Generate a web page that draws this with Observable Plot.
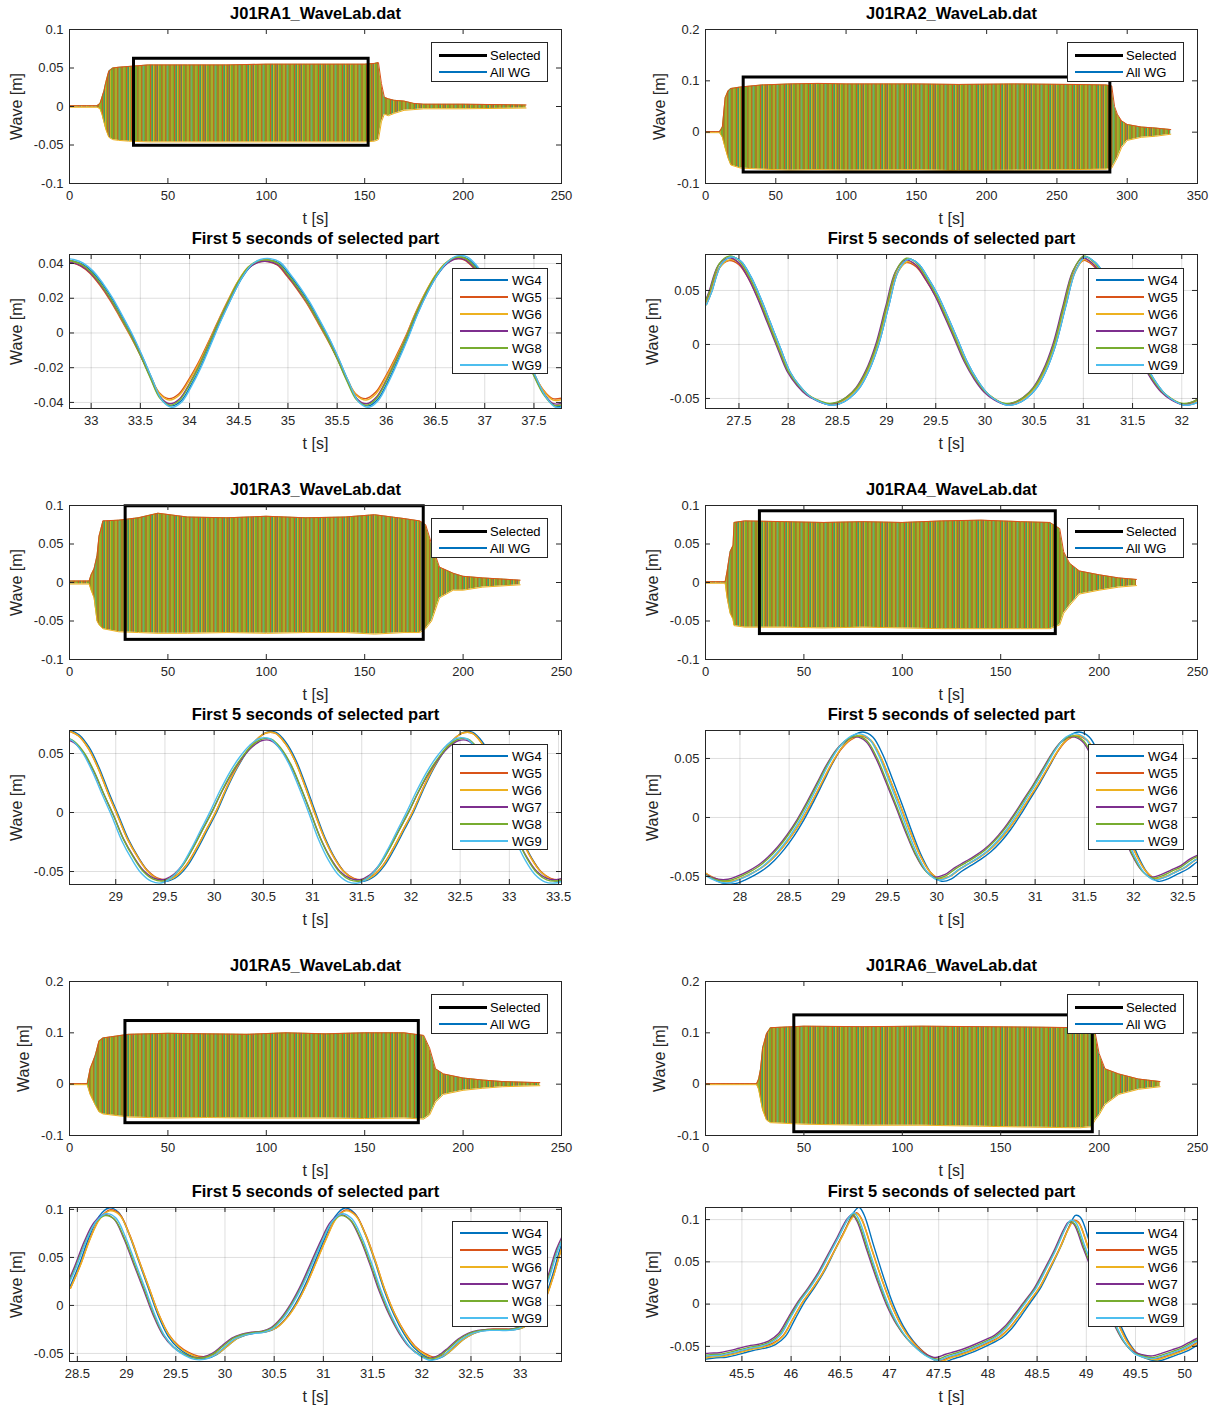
<!DOCTYPE html>
<html><head><meta charset="utf-8">
<script src="https://cdn.jsdelivr.net/npm/d3@7"></script>
<script src="https://cdn.jsdelivr.net/npm/@observablehq/plot@0.6"></script>
<style>
html,body{margin:0;padding:0;background:#fff;}
#fig{position:relative;width:1218px;height:1407px;overflow:hidden;font-family:"Liberation Sans",Arial,Helvetica,sans-serif;}
.panel{position:absolute;}
.legend{position:absolute;background:#fff;border:1px solid #262626;box-sizing:border-box;color:#000;font-size:13px;}
.legend .ln{position:absolute;}
.legend .tx{position:absolute;line-height:17px;height:17px;white-space:nowrap;}
</style></head>
<body>
<svg width="0" height="0" style="position:absolute"><defs>
<pattern id="waveTex" patternUnits="userSpaceOnUse" width="24" height="10">
<rect x="0" y="0" width="24" height="10" fill="#77AC30"/>
<rect x="1.5" y="0" width="1" height="10" fill="#D95319"/>
<rect x="3.6" y="0" width="0.7" height="10" fill="#EDB120"/>
<rect x="6" y="0" width="0.9" height="10" fill="#D95319"/>
<rect x="7.9" y="0" width="0.5" height="10" fill="#0072BD"/>
<rect x="9.2" y="0" width="0.9" height="10" fill="#EDB120"/>
<rect x="11.2" y="0" width="1.1" height="10" fill="#D95319"/>
<rect x="13.1" y="0" width="0.5" height="10" fill="#7E2F8E"/>
<rect x="14.3" y="0" width="0.7" height="10" fill="#EDB120"/>
<rect x="17.4" y="0" width="0.9" height="10" fill="#D95319"/>
<rect x="19.6" y="0" width="0.8" height="10" fill="#EDB120"/>
<rect x="21.3" y="0" width="1" height="10" fill="#D95319"/>
<rect x="22.9" y="0" width="0.4" height="10" fill="#4DBEEE"/>
</pattern></defs></svg>
<div id="fig"></div>
<script>
// ---------- DATA ----------
const files = ["J01RA1_WaveLab.dat","J01RA2_WaveLab.dat","J01RA3_WaveLab.dat","J01RA4_WaveLab.dat","J01RA5_WaveLab.dat","J01RA6_WaveLab.dat"];
const wgNames = ["WG4","WG5","WG6","WG7","WG8","WG9"];
const wgColors = ["#0072BD","#D95319","#EDB120","#7E2F8E","#77AC30","#4DBEEE"];
const overviewLegend = ["Selected","All WG"];
const detailTitle = "First 5 seconds of selected part";

// envelopes of full records: [t, upper, lower]
const ra1Env = [[0,0.001,-0.001],[14,0.001,-0.001],[15.5,0.004,-0.003],[16.5,0.012,-0.01],[17.5,0.02,-0.02],[18.5,0.032,-0.03],[20,0.046,-0.04],[22,0.05,-0.043],[25,0.051,-0.044],[30,0.052,-0.045],[40,0.054,-0.046],[60,0.054,-0.046],[80,0.054,-0.046],[100,0.055,-0.046],[120,0.055,-0.046],[140,0.055,-0.046],[150,0.055,-0.046],[155,0.056,-0.045],[157,0.057,-0.043],[158.5,0.03,-0.02],[160,0.012,-0.01],[162,0.01,-0.012],[165,0.008,-0.009],[170,0.007,-0.005],[175,0.004,-0.004],[180,0.003,-0.003],[200,0.003,-0.003],[232,0.002,-0.002]];
const ra2Env = [[0,0.001,-0.001],[10,0.001,-0.001],[12,0.01,-0.01],[14,0.067,-0.031],[16,0.08,-0.05],[18,0.085,-0.064],[25,0.088,-0.07],[40,0.092,-0.072],[60,0.094,-0.074],[80,0.095,-0.073],[100,0.094,-0.074],[150,0.094,-0.073],[180,0.093,-0.075],[220,0.094,-0.074],[260,0.093,-0.073],[285,0.092,-0.072],[289,0.09,-0.07],[291,0.05,-0.06],[293,0.035,-0.05],[296,0.022,-0.03],[300,0.015,-0.016],[310,0.01,-0.01],[320,0.008,-0.008],[331,0.005,-0.004]];
const ra3Env = [[0,0.002,-0.002],[10,0.002,-0.002],[11,0.01,-0.01],[12.5,0.018,-0.02],[14,0.035,-0.05],[15,0.06,-0.055],[17,0.08,-0.06],[25,0.081,-0.064],[35,0.084,-0.065],[45,0.09,-0.066],[60,0.085,-0.066],[80,0.084,-0.065],[100,0.086,-0.066],[120,0.084,-0.065],[140,0.085,-0.065],[155,0.088,-0.067],[170,0.083,-0.065],[178,0.08,-0.065],[181,0.075,-0.06],[184,0.05,-0.05],[188,0.02,-0.02],[195,0.012,-0.01],[200,0.008,-0.01],[210,0.006,-0.006],[229,0.003,-0.003]];
const ra4Env = [[0,0.001,-0.001],[10,0.001,-0.001],[11,0.015,-0.02],[12.5,0.04,-0.04],[14,0.048,-0.048],[14.5,0.078,-0.056],[20,0.08,-0.058],[40,0.079,-0.058],[60,0.078,-0.059],[80,0.079,-0.058],[100,0.078,-0.059],[120,0.08,-0.06],[140,0.081,-0.06],[160,0.079,-0.06],[175,0.078,-0.06],[180,0.07,-0.055],[182,0.04,-0.04],[185,0.025,-0.03],[190,0.015,-0.015],[200,0.01,-0.01],[210,0.006,-0.006],[219,0.004,-0.004]];
const ra5Env = [[0,0.001,-0.001],[9,0.001,-0.001],[10.5,0.03,-0.02],[13,0.055,-0.04],[15,0.084,-0.054],[17,0.09,-0.058],[30,0.097,-0.064],[50,0.099,-0.066],[70,0.098,-0.065],[90,0.097,-0.066],[110,0.1,-0.066],[130,0.098,-0.066],[150,0.1,-0.067],[170,0.1,-0.066],[180,0.095,-0.068],[183,0.07,-0.06],[186,0.03,-0.035],[190,0.02,-0.02],[200,0.012,-0.012],[210,0.008,-0.008],[220,0.005,-0.005],[239,0.003,-0.003]];
const ra6Env = [[0,0.001,-0.001],[26,0.001,-0.001],[27,0.01,-0.01],[28,0.03,-0.03],[29,0.07,-0.05],[31,0.098,-0.07],[33,0.11,-0.075],[50,0.113,-0.078],[80,0.112,-0.08],[110,0.113,-0.08],[140,0.112,-0.082],[170,0.111,-0.084],[190,0.11,-0.085],[196,0.108,-0.083],[198,0.1,-0.07],[200,0.06,-0.06],[203,0.03,-0.04],[210,0.02,-0.02],[220,0.01,-0.01],[231,0.005,-0.005]];

// selected window: [tStart, tEnd, low, high]
const ra1Sel = [32.78,152,-0.051,0.062];
const ra2Sel = [27.16,288,-0.0786,0.1065];
const ra3Sel = [28.53,180,-0.0745,0.099];
const ra4Sel = [27.65,178,-0.067,0.0925];
const ra5Sel = [28.42,177.5,-0.076,0.123];
const ra6Sel = [45.13,196.8,-0.0936,0.134];

// first 5 seconds (reference gauge trace): [t, eta]
const ra1Detail = [[32.75,0.042],[32.8,0.0415],[32.9,0.0395],[33.0,0.035],[33.1,0.028],[33.2,0.0195],[33.3,0.0095],[33.4,-0.001],[33.5,-0.013],[33.6,-0.026],[33.7,-0.038],[33.8,-0.042],[33.9,-0.039],[34.0,-0.030],[34.1,-0.019],[34.2,-0.006],[34.3,0.007],[34.4,0.019],[34.5,0.030],[34.6,0.038],[34.7,0.0415],[34.8,0.042],[34.9,0.040],[35.0,0.0335],[35.1,0.026],[35.2,0.0175],[35.3,0.0075],[35.4,-0.003],[35.5,-0.015],[35.6,-0.028],[35.7,-0.039],[35.8,-0.042],[35.9,-0.038],[36.0,-0.028],[36.1,-0.016],[36.2,-0.003],[36.3,0.011],[36.4,0.023],[36.5,0.033],[36.6,0.040],[36.7,0.0435],[36.8,0.043],[36.9,0.038],[37.0,0.030],[37.1,0.021],[37.2,0.011],[37.3,0.000],[37.4,-0.012],[37.5,-0.025],[37.6,-0.036],[37.7,-0.042],[37.8,-0.0415],[37.85,-0.040]];
const ra2Detail = [[27.15,0.037],[27.2,0.048],[27.3,0.074],[27.4,0.081],[27.5,0.077],[27.6,0.063],[27.7,0.043],[27.8,0.020],[27.9,-0.003],[28.0,-0.025],[28.1,-0.038],[28.2,-0.047],[28.3,-0.052],[28.4,-0.055],[28.5,-0.054],[28.6,-0.049],[28.7,-0.040],[28.8,-0.024],[28.9,0.000],[29.0,0.035],[29.1,0.068],[29.2,0.079],[29.3,0.075],[29.4,0.062],[29.5,0.046],[29.6,0.026],[29.7,0.005],[29.8,-0.016],[29.9,-0.032],[30.0,-0.044],[30.1,-0.051],[30.2,-0.055],[30.3,-0.054],[30.4,-0.049],[30.5,-0.040],[30.6,-0.024],[30.7,0.000],[30.8,0.035],[30.9,0.068],[31.0,0.081],[31.1,0.076],[31.2,0.064],[31.3,0.047],[31.4,0.027],[31.5,0.005],[31.6,-0.016],[31.7,-0.032],[31.8,-0.044],[31.9,-0.051],[32.0,-0.055],[32.1,-0.054],[32.2,-0.049]];
const ra3Detail = [[28.5,0.066],[28.6,0.062],[28.7,0.052],[28.8,0.036],[28.9,0.016],[29.0,-0.003],[29.1,-0.023],[29.2,-0.038],[29.3,-0.050],[29.4,-0.0565],[29.5,-0.058],[29.6,-0.054],[29.7,-0.045],[29.8,-0.031],[29.9,-0.015],[30.0,0.001],[30.1,0.019],[30.2,0.035],[30.3,0.048],[30.4,0.058],[30.5,0.064],[30.6,0.064],[30.7,0.056],[30.8,0.042],[30.9,0.022],[31.0,0.0],[31.1,-0.022],[31.2,-0.039],[31.3,-0.051],[31.4,-0.057],[31.5,-0.058],[31.6,-0.054],[31.7,-0.045],[31.8,-0.031],[31.9,-0.015],[32.0,0.001],[32.1,0.019],[32.2,0.035],[32.3,0.048],[32.4,0.058],[32.5,0.064],[32.6,0.064],[32.7,0.056],[32.8,0.042],[32.9,0.022],[33.0,0.0],[33.1,-0.022],[33.2,-0.039],[33.3,-0.051],[33.4,-0.057],[33.5,-0.058],[33.6,-0.056]];
const ra4Detail = [[27.6,-0.046],[27.7,-0.051],[27.8,-0.054],[27.9,-0.054],[28.0,-0.051],[28.1,-0.047],[28.2,-0.042],[28.3,-0.035],[28.4,-0.026],[28.5,-0.015],[28.6,-0.002],[28.7,0.013],[28.8,0.029],[28.9,0.045],[29.0,0.058],[29.1,0.066],[29.2,0.069],[29.3,0.065],[29.4,0.051],[29.5,0.031],[29.6,0.010],[29.7,-0.012],[29.8,-0.032],[29.9,-0.046],[30.0,-0.052],[30.1,-0.050],[30.2,-0.044],[30.3,-0.039],[30.4,-0.034],[30.5,-0.028],[30.6,-0.020],[30.7,-0.010],[30.8,0.002],[30.9,0.015],[31.0,0.028],[31.1,0.042],[31.2,0.056],[31.3,0.066],[31.4,0.069],[31.5,0.065],[31.6,0.051],[31.7,0.031],[31.8,0.010],[31.9,-0.012],[32.0,-0.032],[32.1,-0.046],[32.2,-0.052],[32.3,-0.050],[32.4,-0.046],[32.5,-0.042],[32.6,-0.036],[32.7,-0.032]];
const ra5Detail = [[28.4,0.018],[28.5,0.042],[28.6,0.070],[28.7,0.091],[28.8,0.0995],[28.9,0.095],[29.0,0.074],[29.1,0.046],[29.2,0.018],[29.3,-0.010],[29.4,-0.031],[29.5,-0.043],[29.6,-0.050],[29.7,-0.054],[29.8,-0.054],[29.9,-0.050],[30.0,-0.042],[30.1,-0.034],[30.2,-0.030],[30.3,-0.028],[30.4,-0.027],[30.5,-0.023],[30.6,-0.013],[30.7,0.002],[30.8,0.022],[30.9,0.046],[31.0,0.070],[31.1,0.091],[31.2,0.0995],[31.3,0.094],[31.4,0.074],[31.5,0.046],[31.6,0.015],[31.7,-0.010],[31.8,-0.029],[31.9,-0.043],[32.0,-0.051],[32.1,-0.055],[32.2,-0.052],[32.3,-0.044],[32.4,-0.035],[32.5,-0.029],[32.6,-0.026],[32.7,-0.025],[32.8,-0.025],[32.9,-0.025],[33.0,-0.023],[33.1,-0.015],[33.2,0.000],[33.3,0.028],[33.4,0.062],[33.5,0.085]];
const ra6Detail = [[45.1,-0.0625],[45.2,-0.061],[45.3,-0.0605],[45.4,-0.058],[45.5,-0.055],[45.6,-0.052],[45.7,-0.050],[45.8,-0.046],[45.9,-0.037],[46.0,-0.017],[46.1,0.003],[46.2,0.019],[46.3,0.037],[46.4,0.059],[46.5,0.081],[46.6,0.103],[46.65,0.108],[46.7,0.100],[46.8,0.065],[46.9,0.030],[47.0,-0.001],[47.1,-0.025],[47.2,-0.042],[47.3,-0.054],[47.4,-0.0625],[47.5,-0.0665],[47.6,-0.0625],[47.7,-0.059],[47.8,-0.055],[47.9,-0.050],[48.0,-0.0446],[48.1,-0.0386],[48.2,-0.028],[48.3,-0.013],[48.4,0.003],[48.5,0.019],[48.6,0.041],[48.7,0.064],[48.8,0.090],[48.85,0.099],[48.9,0.097],[49.0,0.067],[49.1,0.037],[49.2,0.008],[49.3,-0.022],[49.4,-0.045],[49.5,-0.0585],[49.6,-0.063],[49.7,-0.0645],[49.8,-0.061],[49.9,-0.057],[50.0,-0.0526],[50.1,-0.046],[50.2,-0.040]];

// per-gauge offsets (WG4..WG9): time lag, crest ratio, trough ratio
const ra1Shift = [0.015,-0.01,-0.005,0,0,0.02],  ra1Crest = [1.0,0.98,1.0,0.98,1.0,1.02],  ra1Trough = [1.0,0.9,0.92,0.97,0.99,1.02];
const ra2Shift = [0.02,0,0.01,-0.01,0,0.02],     ra2Crest = [1.0,0.96,0.97,0.99,1.01,1.0], ra2Trough = [1.02,1.0,1.0,1.0,0.99,1.02];
const ra3Shift = [0.03,0.02,0.02,-0.02,-0.02,-0.04], ra3Crest = [1.06,1.05,1.05,0.95,0.97,0.98], ra3Trough = [1.0,0.98,0.99,0.98,1.0,1.03];
const ra4Shift = [0.05,0.03,0.03,-0.02,-0.01,0.01],  ra4Crest = [1.05,1.0,1.01,0.99,1.0,1.03],  ra4Trough = [1.04,1.0,1.0,0.97,0.99,1.02];
const ra5Shift = [0.02,0.03,0.03,-0.03,-0.02,-0.01], ra5Crest = [1.02,1.0,0.99,0.95,0.94,0.96], ra5Trough = [1.02,0.98,1.0,1.0,1.01,1.04];
const ra6Shift = [0.04,0.02,0.02,-0.03,-0.02,-0.01], ra6Crest = [1.06,1.0,0.99,0.98,0.98,1.0],  ra6Trough = [1.04,1.0,1.02,0.95,0.98,1.0];

// axis domains & ticks
const ovXDomains = [[0,250],[0,350],[0,250],[0,250],[0,250],[0,250]];
const ovYDomains = [[-0.1,0.1],[-0.1,0.2],[-0.1,0.1],[-0.1,0.1],[-0.1,0.2],[-0.1,0.2]];
const ovXTicks = [[0,50,100,150,200,250],[0,50,100,150,200,250,300,350],[0,50,100,150,200,250],[0,50,100,150,200,250],[0,50,100,150,200,250],[0,50,100,150,200,250]];
const ovYTicks = [[-0.1,-0.05,0,0.05,0.1],[-0.1,0,0.1,0.2],[-0.1,-0.05,0,0.05,0.1],[-0.1,-0.05,0,0.05,0.1],[-0.1,0,0.1,0.2],[-0.1,0,0.1,0.2]];
const dtXDomains = [[32.78,37.78],[27.16,32.16],[28.53,33.53],[27.65,32.65],[28.42,33.42],[45.13,50.13]];
const dtYDomains = [[-0.0435,0.0452],[-0.0593,0.0833],[-0.061,0.0695],[-0.0568,0.0737],[-0.0584,0.102],[-0.0679,0.1143]];
const dtXTicks = [[33,33.5,34,34.5,35,35.5,36,36.5,37,37.5],[27.5,28,28.5,29,29.5,30,30.5,31,31.5,32],[29,29.5,30,30.5,31,31.5,32,32.5,33,33.5],[28,28.5,29,29.5,30,30.5,31,31.5,32,32.5],[28.5,29,29.5,30,30.5,31,31.5,32,32.5,33],[45.5,46,46.5,47,47.5,48,48.5,49,49.5,50]];
const dtYTicks = [[-0.04,-0.02,0,0.02,0.04],[-0.05,0,0.05],[-0.05,0,0.05],[-0.05,0,0.05],[-0.05,0,0.05,0.1],[-0.05,0,0.05,0.1]];

const envs = [ra1Env,ra2Env,ra3Env,ra4Env,ra5Env,ra6Env];
const sels = [ra1Sel,ra2Sel,ra3Sel,ra4Sel,ra5Sel,ra6Sel];
const details = [ra1Detail,ra2Detail,ra3Detail,ra4Detail,ra5Detail,ra6Detail];
const shifts = [ra1Shift,ra2Shift,ra3Shift,ra4Shift,ra5Shift,ra6Shift];
const crests = [ra1Crest,ra2Crest,ra3Crest,ra4Crest,ra5Crest,ra6Crest];
const troughs = [ra1Trough,ra2Trough,ra3Trough,ra4Trough,ra5Trough,ra6Trough];

// ---------- LAYOUT ----------
const fig = document.getElementById("fig");
const AX = "#262626";
const FONT = "'Liberation Sans', Arial, Helvetica, sans-serif";
const cols = [{left:0,width:610,ml:69,mr:49},{left:610,width:608,ml:95,mr:21}];
const frameTops = [29,254,505,730,981,1207];
const FH = 154, MT = 29, MB = 46;
const fmt = d => String(+(+d).toFixed(4));
const cvs = document.createElement("canvas").getContext("2d");
cvs.font = "13px " + FONT;
const labelOffset = ticks => Math.max(...ticks.map(t => cvs.measureText(fmt(t)).width)) + 23;

function frameMarks(xTicks, yTicks, iw, ih, title, yOff) {
  return [
    Plot.ruleX(xTicks, {insetTop: ih - 5, stroke: AX}),
    Plot.ruleX(xTicks, {insetBottom: ih - 5, stroke: AX}),
    Plot.ruleY(yTicks, {insetRight: iw - 5, stroke: AX}),
    Plot.ruleY(yTicks, {insetLeft: iw - 5, stroke: AX}),
    Plot.frame({stroke: AX}),
    Plot.text([title], {text: d => d, frameAnchor: "top", dy: -16, lineAnchor: "middle", textAnchor: "middle", fontWeight: "bold", fontSize: 16.5, fill: "#000"}),
    Plot.text(["t [s]"], {text: d => d, frameAnchor: "bottom", dy: 35, lineAnchor: "middle", textAnchor: "middle", fontSize: 16, fill: AX}),
    Plot.text(["Wave [m]"], {text: d => d, frameAnchor: "left", dx: -yOff, rotate: -90, lineAnchor: "middle", textAnchor: "middle", fontSize: 16, fill: AX})
  ];
}

function makePlot(col, xDomain, yDomain, xTicks, yTicks, marks) {
  return Plot.plot({
    width: col.width, height: MT + FH + MB,
    marginLeft: col.ml, marginRight: col.mr, marginTop: MT, marginBottom: MB,
    style: {fontFamily: FONT, fontSize: "13px", color: AX, background: "transparent", overflow: "visible"},
    x: {domain: xDomain, ticks: xTicks, tickSize: 0, tickPadding: 7, tickFormat: fmt, label: null},
    y: {domain: yDomain, ticks: yTicks, tickSize: 0, tickPadding: 6, tickFormat: fmt, label: null},
    marks
  });
}

function place(el, left, top) {
  el.classList.add("panel");
  el.style.left = left + "px"; el.style.top = top + "px";
  fig.appendChild(el);
}

function legendBox(left, top, w, h, items, colors, widths, rowTop, lineW, textX) {
  const box = document.createElement("div");
  box.className = "legend";
  Object.assign(box.style, {left: left+"px", top: top+"px", width: w+"px", height: h+"px"});
  items.forEach((name, i) => {
    const cy = rowTop + 17 * i;
    const ln = document.createElement("div");
    ln.className = "ln";
    Object.assign(ln.style, {left: "7px", width: lineW+"px", top: (cy - widths[i]/2 - 1) + "px", height: widths[i]+"px", background: colors[i]});
    const tx = document.createElement("div");
    tx.className = "tx";
    tx.textContent = name;
    Object.assign(tx.style, {left: textX+"px", top: (cy - 9.5) + "px"});
    box.appendChild(ln); box.appendChild(tx);
  });
  fig.appendChild(box);
}

files.forEach((file, k) => {
  const col = cols[k % 2];
  const rowO = 2 * Math.floor(k / 2), rowD = rowO + 1;
  const iw = col.width - col.ml - col.mr;
  const frameRight = col.left + col.width - col.mr;

  // overview
  const env = envs[k], sel = sels[k];
  const ov = makePlot(col, ovXDomains[k], ovYDomains[k], ovXTicks[k], ovYTicks[k], [
    Plot.areaY(env, {x: d => d[0], y1: d => d[2], y2: d => d[1], fill: "url(#waveTex)", clip: true}),
    Plot.line(env, {x: d => d[0], y: d => d[1], stroke: "#D95319", strokeWidth: 1, clip: true}),
    Plot.line(env, {x: d => d[0], y: d => d[2], stroke: "#EDB120", strokeWidth: 1, clip: true}),
    Plot.rect([sel], {x1: d => d[0], x2: d => d[1], y1: d => d[2], y2: d => d[3], fill: "none", stroke: "#000", strokeWidth: 3}),
    ...frameMarks(ovXTicks[k], ovYTicks[k], iw, FH, file, labelOffset(ovYTicks[k]))
  ]);
  place(ov, col.left, frameTops[rowO] - MT);
  legendBox(frameRight - 130, frameTops[rowO] + 13, 117, 40, overviewLegend, ["#000", "#0072BD"], [3, 1.3], 13, 48, 58);

  // detail
  const base = details[k];
  const lines = wgNames.map((name, i) => {
    const rows = base.map(([t, v]) => ({t: t + shifts[k][i], v: v >= 0 ? v * crests[k][i] : v * troughs[k][i]}));
    return Plot.line(rows, {x: "t", y: "v", stroke: wgColors[i], strokeWidth: 1.4, curve: "catmull-rom", clip: true});
  });
  const dt = makePlot(col, dtXDomains[k], dtYDomains[k], dtXTicks[k], dtYTicks[k], [
    Plot.ruleX(dtXTicks[k], {stroke: AX, strokeOpacity: 0.15}),
    Plot.ruleY(dtYTicks[k], {stroke: AX, strokeOpacity: 0.15}),
    ...lines,
    ...frameMarks(dtXTicks[k], dtYTicks[k], iw, FH, detailTitle, labelOffset(dtYTicks[k]))
  ]);
  place(dt, col.left, frameTops[rowD] - MT);
  legendBox(frameRight - 109, frameTops[rowD] + 14, 96, 106, wgNames, wgColors, [2,2,2,2,2,2], 12, 48, 59);
});
</script>
</body></html>
